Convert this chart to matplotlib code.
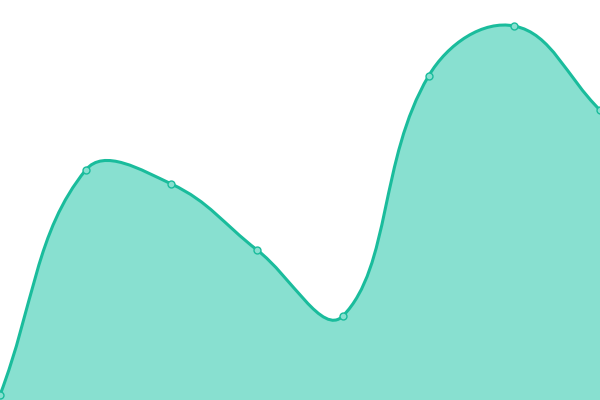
import matplotlib
matplotlib.use("Agg")
import matplotlib.pyplot as plt
import numpy as np
from matplotlib.path import Path
from matplotlib.patches import PathPatch

categories = ["A", "B", "C", "D", "E", "F", "G", "H"]
values = [5, 230, 216, 150, 84, 324, 374, 290]

LINE = "#1abc9c"
FILL = "#88e0d0"
W, H = 600, 400

fig = plt.figure(figsize=(6, 4), dpi=100)
ax = fig.add_axes([0, 0, 1, 1])
ax.set_xlim(0, W)
ax.set_ylim(0, H)
ax.axis("off")

n = len(values)
xs = np.array([i * W / (n - 1) for i in range(n)], dtype=float)
ys = np.array(values, dtype=float)

tension = 0.4
cps = []
for i in range(n):
    px, py = (xs[i - 1], ys[i - 1]) if i > 0 else (xs[i], ys[i])
    nx, ny = (xs[i + 1], ys[i + 1]) if i < n - 1 else (xs[i], ys[i])
    cx, cy = xs[i], ys[i]
    d01 = np.hypot(cx - px, cy - py)
    d12 = np.hypot(nx - cx, ny - cy)
    tot = d01 + d12
    s01 = d01 / tot if tot else 0
    s12 = d12 / tot if tot else 0
    fa = tension * s01
    fb = tension * s12
    c1 = (cx - fa * (nx - px), cy - fa * (ny - py))
    c2 = (cx + fb * (nx - px), cy + fb * (ny - py))
    c1 = (min(max(c1[0], 0), W), min(max(c1[1], 0), H))
    c2 = (min(max(c2[0], 0), W), min(max(c2[1], 0), H))
    cps.append((c1, c2))

verts = [(xs[0], ys[0])]
codes = [Path.MOVETO]
for i in range(n - 1):
    verts += [cps[i][1], cps[i + 1][0], (xs[i + 1], ys[i + 1])]
    codes += [Path.CURVE4] * 3
line_path = Path(verts, codes)

fill_verts = verts + [(xs[-1], 0), (xs[0], 0), (xs[0], ys[0])]
fill_codes = codes + [Path.LINETO, Path.LINETO, Path.CLOSEPOLY]
ax.add_patch(PathPatch(Path(fill_verts, fill_codes), facecolor=FILL, edgecolor="none", zorder=1))
ax.add_patch(PathPatch(line_path, facecolor="none", edgecolor=LINE, lw=2.2, zorder=2))
ax.plot(xs, ys, linestyle="none", marker="o", ms=5, mfc=FILL, mec=LINE, mew=1, zorder=3, clip_on=False)

fig.savefig("out.png", dpi=100)
